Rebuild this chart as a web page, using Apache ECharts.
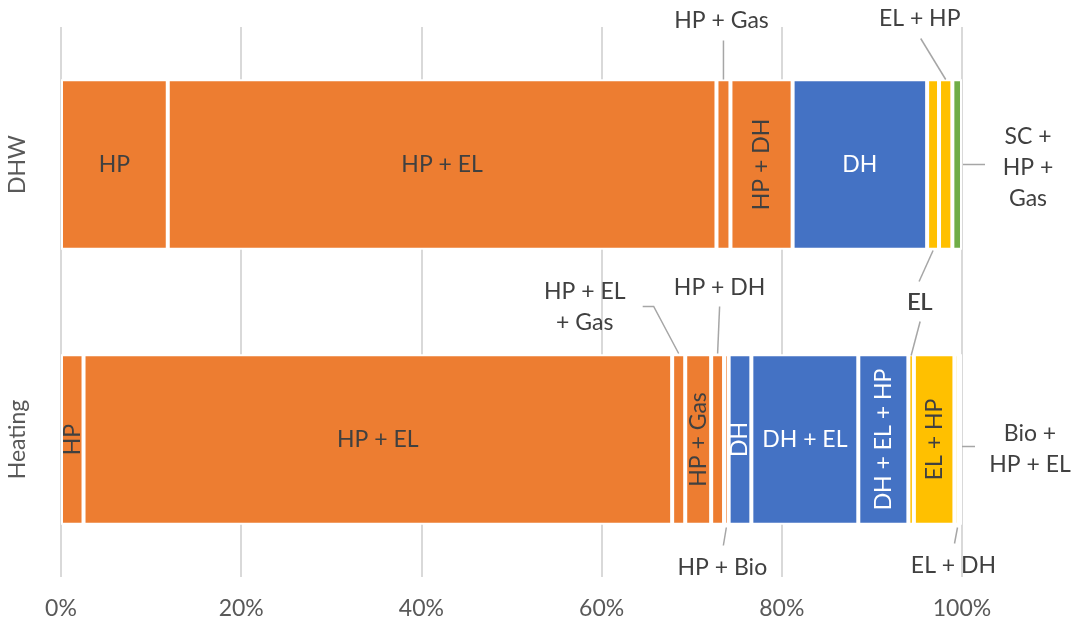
<!DOCTYPE html>
<html>
<head>
<meta charset="utf-8">
<script src="https://cdn.jsdelivr.net/npm/echarts@6/dist/echarts.min.js"></script>
<style>
html,body{margin:0;padding:0;background:#fff;}
#c{width:1071px;height:623px;}
</style>
</head>
<body>
<div id="c"></div>
<script>
// ---------- data ----------
const categories = ['DHW', 'Heating'];
const seriesNames = ['HP', 'HP + EL', 'HP + EL + Gas', 'HP + Gas', 'HP + DH', 'HP + Bio',
  'DH', 'DH + EL', 'DH + EL + HP', 'EL', 'EL + HP', 'EL + DH', 'SC + HP + Gas', 'Bio + HP + EL'];
const dhwShares     = [11.85, 60.9, null, 1.55, 6.9, null, 14.93, null, null, 1.32, 1.48, null, 1.07, null];
const heatingShares = [2.5, 65.33, 1.45, 2.88, 1.43, 0.51, 2.52, 11.87, 5.56, 0.61, 4.5, 0.46, null, 0.38];
const xTickStep = 20;
const xTickSuffix = '%';

// ---------- styles ----------
const ORANGE = '#ED7D31', BLUE = '#4472C4', YELLOW = '#FFC000', GREEN = '#70AD47';
const seriesColors = [ORANGE, ORANGE, ORANGE, ORANGE, ORANGE, ORANGE, BLUE, BLUE, BLUE, YELLOW, YELLOW, YELLOW, GREEN, GREEN];
const FONT = 'Lato, "Noto Sans", sans-serif';
const FS = 23;
const DARK = '#404040';

// which segments carry an inside label: h = horizontal, v = vertical
const insideLabels = {
  'DHW|HP': 'h', 'DHW|HP + EL': 'h', 'DHW|HP + DH': 'v', 'DHW|DH': 'h',
  'Heating|HP': 'v', 'Heating|HP + EL': 'h', 'Heating|HP + Gas': 'v', 'Heating|DH': 'v',
  'Heating|DH + EL': 'h', 'Heating|DH + EL + HP': 'v', 'Heating|EL + HP': 'v'
};

// outside callouts: offsets in px relative to the segment anchor (segment middle or end, bar centre line)
const callouts = [
  {cat: 'DHW', series: 'HP + Gas', text: 'HP + Gas', anchor: 'mid', line: [[0, -85], [0, -124]], pos: [-2, -144]},
  {cat: 'DHW', series: 'EL + HP', text: 'EL + HP', anchor: 'mid', line: [[0, -85], [-25, -126]], pos: [-26, -146]},
  {cat: 'DHW', series: 'SC + HP + Gas', text: 'SC +\nHP +\nGas', anchor: 'end', line: [[1, 0], [23, 0]], pos: [66, 3]},
  {cat: 'DHW', series: 'EL', text: 'EL', anchor: 'mid', line: [[0, 86], [-14, 117]], pos: [-13, 138]},
  {cat: 'Heating', series: 'EL', text: 'EL', anchor: 'mid', line: [[0, -84], [9, -118]], pos: [8.5, -137]},
  {cat: 'Heating', series: 'HP + EL + Gas', text: 'HP + EL\n+ Gas', anchor: 'mid', line: [[0, -86], [-25, -133], [-36, -133]], pos: [-94, -132]},
  {cat: 'Heating', series: 'HP + DH', text: 'HP + DH', anchor: 'mid', line: [[0, -86], [2, -133]], pos: [2, -152]},
  {cat: 'Heating', series: 'HP + Bio', text: 'HP + Bio', anchor: 'mid', line: [[0, 88], [-3, 106]], pos: [-4, 128]},
  {cat: 'Heating', series: 'EL + DH', text: 'EL + DH', anchor: 'mid', line: [[1, 88], [-2, 104]], pos: [-3, 126]},
  {cat: 'Heating', series: 'Bio + HP + EL', text: 'Bio +\nHP + EL', anchor: 'end', line: [[0, 7], [13, 7]], pos: [68, 10]}
];

// ---------- build ----------
const sharesByCat = [dhwShares, heatingShares];

const barSeries = seriesNames.map((name, si) => ({
  type: 'bar',
  name: name,
  stack: 'total',
  barWidth: '62%',
  itemStyle: {color: seriesColors[si], borderColor: '#ffffff', borderWidth: 2},
  emphasis: {disabled: true},
  data: categories.map((cat, ci) => {
    const v = sharesByCat[ci][si];
    const item = {value: v == null ? '-' : v};
    const kind = insideLabels[cat + '|' + name];
    if (kind) {
      item.label = {
        show: true, position: 'inside', rotate: kind === 'v' ? 90 : 0,
        formatter: name, color: seriesColors[si] === BLUE ? '#ffffff' : DARK,
        fontSize: FS, fontFamily: FONT
      };
    }
    return item;
  })
}));

const calloutData = callouts.map((c, k) => {
  const ci = categories.indexOf(c.cat);
  const si = seriesNames.indexOf(c.series);
  const arr = sharesByCat[ci];
  let start = 0;
  for (let i = 0; i < si; i++) start += arr[i] || 0;
  return [start, start + arr[si], ci, k];
});

const calloutSeries = {
  type: 'custom',
  coordinateSystem: 'cartesian2d',
  silent: true,
  z: 5,
  encode: {x: [0, 1], y: 2},
  data: calloutData,
  renderItem: function (params, api) {
    const start = api.value(0), end = api.value(1), ci = api.value(2), k = api.value(3);
    const c = callouts[k];
    const xv = c.anchor === 'end' ? end : (start + end) / 2;
    const p = api.coord([xv, ci]);
    const ax = p[0], ay = p[1];
    return {
      type: 'group',
      children: [
        {type: 'polyline', shape: {points: c.line.map(q => [ax + q[0], ay + q[1]])},
         style: {stroke: '#A6A6A6', lineWidth: 1.5, fill: null}},
        {type: 'text', x: ax + c.pos[0], y: ay + c.pos[1],
         style: {text: c.text, fill: DARK, fontSize: FS, fontFamily: FONT,
                 align: 'center', verticalAlign: 'middle', lineHeight: 31}}
      ]
    };
  }
};

const chart = echarts.init(document.getElementById('c'), null, {renderer: 'canvas'});
chart.setOption({
  animation: false,
  backgroundColor: '#ffffff',
  grid: {left: 61, right: 109, top: 27, bottom: 46, containLabel: false},
  xAxis: {
    type: 'value', min: 0, max: 100, interval: xTickStep,
    axisLine: {show: false}, axisTick: {show: false},
    splitLine: {show: true, lineStyle: {color: '#D9D9D9', width: 2}},
    axisLabel: {formatter: '{value}' + xTickSuffix, color: '#595959', fontSize: FS, fontFamily: FONT, margin: 20}
  },
  yAxis: {
    type: 'category', data: categories, inverse: true,
    axisLine: {show: false}, axisTick: {show: false}, splitLine: {show: false},
    axisLabel: {rotate: 90, color: '#595959', fontSize: FS, fontFamily: FONT, margin: 32}
  },
  series: barSeries.concat([calloutSeries])
});
</script>
</body>
</html>
